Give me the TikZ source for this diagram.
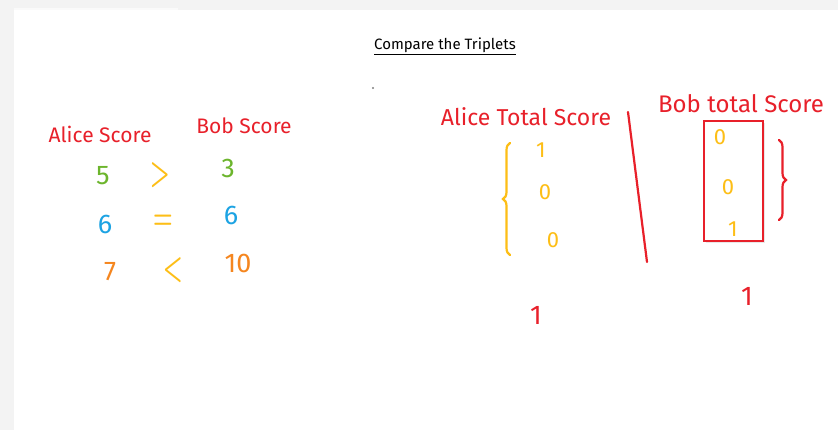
\documentclass[tikz,border=0pt]{standalone}
\usepackage{fontspec}
\setmainfont{Fira Sans}
\usetikzlibrary{decorations.pathreplacing,shadows}
\definecolor{Ink}{HTML}{E8202A}
\definecolor{Leaf}{HTML}{6CB52C}
\definecolor{Sky}{HTML}{1CA3E3}
\definecolor{Amber}{HTML}{F5861F}
\definecolor{Gold}{HTML}{FDBE16}
\definecolor{Frame}{HTML}{F3F3F3}
\newcommand{\tallsign}[1]{\scalebox{0.9}[1.5]{\boldmath$#1$}}
\tikzset{label/.style={text=Ink,inner sep=0pt,font=\fontsize{21}{21}\selectfont},
  digit/.style={inner sep=0pt,font=\fontsize{27}{27}\selectfont},
  sign/.style={inner sep=0pt,text=Gold,font=\fontsize{26}{26}\selectfont},
  pen/.style={draw=Ink,line width=2.2pt,line cap=round},
  curly/.style={decorate,decoration={brace,amplitude=7pt},line width=2.2pt,line cap=round}}

\begin{document}
\begin{tikzpicture}[x=1pt,y=-1pt]
\useasboundingbox (0,0) rectangle (838,430);
\fill[Frame] (0,0) rectangle (838,430);
\fill[white] (14,10) rectangle (838,430);
\draw[white!60!Frame,line width=1.5pt] (14,9)--(178,9);
% title
\node[inner sep=0pt,font=\fontsize{15}{15}\selectfont] (title) at (445,46) {\underline{Compare the Triplets}};
\fill[gray] (373,88) circle (1.2);
% left part: scores per category
\node[label] (alice) at (100,134) {Alice Score};
\node[label] (bob) at (244,126) {Bob Score};
\node[digit,text=Leaf] (a1) at (103,176) {5};
\node[sign] (c1) at (160,175) {\tallsign{>}};
\node[digit,text=Leaf] (b1) at (228,168) {3};
\node[digit,text=Sky] (a2) at (105,224) {6};
\node[sign] (c2) at (163,222) {\tallsign{=}};
\node[digit,text=Sky] (b2) at (231,215) {6};
\node[digit,text=Amber] (a3) at (110,272) {7};
\node[sign] (c3) at (173,270) {\tallsign{<}};
\node[digit,text=Amber] (b3) at (238,263) {10};
% right part: totals
\node[label,font=\fontsize{23}{23}\selectfont] (alicetot) at (526,117) {Alice Total Score};
\node[label,font=\fontsize{24}{24}\selectfont] (bobtot) at (741,104) {Bob total Score};
\coordinate (divtop) at (628,112);
\coordinate (divbot) at (647,262);
\draw[pen] (divtop)--(divbot);
\node[digit,text=Gold,font=\fontsize{22}{22}\selectfont] (p1) at (541,150) {1};
\node[digit,text=Gold,font=\fontsize{22}{22}\selectfont] (p2) at (545,192) {0};
\node[digit,text=Gold,font=\fontsize{22}{22}\selectfont] (p3) at (553,240) {0};
\coordinate (abrbot) at (510,255);
\coordinate (abrtop) at (510,143);
\draw[curly,Gold] (abrbot)--(abrtop);
\node[draw=Ink,line width=2pt,fill=white,minimum width=59pt,minimum height=120pt,
  drop shadow={opacity=0.18,shadow xshift=2pt,shadow yshift=-2pt}] (bobbox) at (733.5,181.5) {};
\node[digit,text=Gold,font=\fontsize{22}{22}\selectfont] (q1) at (720,137) {0};
\node[digit,text=Gold,font=\fontsize{22}{22}\selectfont] (q2) at (728,187) {0};
\node[digit,text=Gold,font=\fontsize{22}{22}\selectfont] (q3) at (733,229) {1};
\coordinate (bbrtop) at (779,140);
\coordinate (bbrbot) at (779,220);
\draw[curly,Ink] (bbrtop)--(bbrbot);
\node[digit,text=Ink] (alicesum) at (536,315) {1};
\node[digit,text=Ink] (bobsum) at (747,296) {1};
\end{tikzpicture}
\end{document}
